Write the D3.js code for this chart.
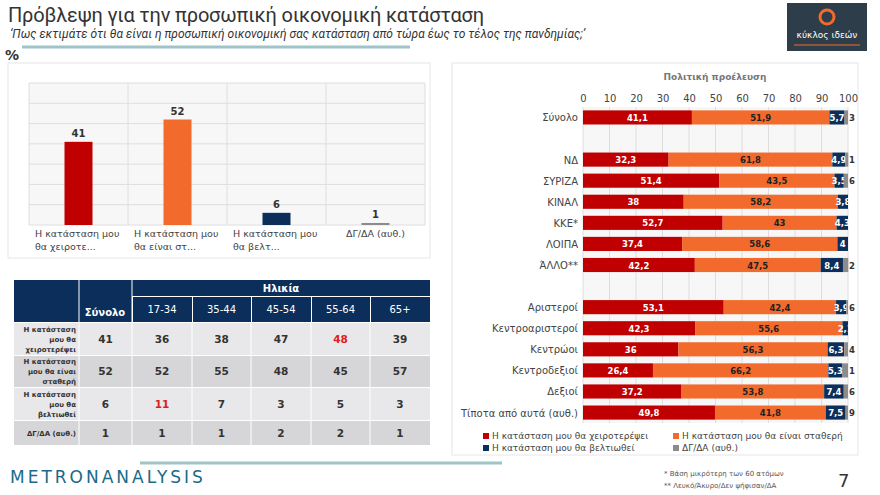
<!DOCTYPE html>
<html><head><meta charset="utf-8">
<script src="https://cdn.jsdelivr.net/npm/d3@7"></script>
<style>body{margin:0;background:#fff;font-family:"DejaVu Sans",sans-serif}</style>
</head><body>
<script>
// data
var totalCats = ["Η κατάσταση μου θα χειροτε...", "Η κατάσταση μου θα είναι στ...", "Η κατάσταση μου θα βελτ...", "ΔΓ/ΔΑ (αυθ.)"];
var totalVals = [41, 52, 6, 1];
var colors = ["#c00000", "#f26a2c", "#0b2f5a", "#8c8c8c"];

var groups = ["Σύνολο", "_b1", "ΝΔ", "ΣΥΡΙΖΑ", "ΚΙΝΑΛ", "ΚΚΕ*", "ΛΟΙΠΑ", "ΆΛΛΟ**", "_b2", "Αριστεροί", "Κεντροαριστεροί", "Κεντρώοι", "Κεντροδεξιοί", "Δεξιοί", "Τίποτα από αυτά (αυθ.)"];
var worse  = [41.1, null, 32.3, 51.4, 38, 52.7, 37.4, 42.2, null, 53.1, 42.3, 36, 26.4, 37.2, 49.8];
var stable = [51.9, null, 61.8, 43.5, 58.2, 43, 58.6, 47.5, null, 42.4, 55.6, 56.3, 66.2, 53.8, 41.8];
var better = [5.7, null, 4.9, 3.5, 3.8, 4.3, 4, 8.4, null, 3.9, 2.1, 6.3, 5.3, 7.4, 7.5];
var dkna   = [1.3, null, 1.1, 1.6, 0, 0, 0, 2, null, 0.6, 0, 1.4, 2.1, 1.6, 0.9];
var seriesNames = ["Η κατάσταση μου θα χειροτερέψει", "Η κατάσταση μου θα είναι σταθερή", "Η κατάσταση μου θα βελτιωθεί", "ΔΓ/ΔΑ (αυθ.)"];
var xTicks = [0, 10, 20, 30, 40, 50, 60, 70, 80, 90, 100];

var ageGroups = ["17-34", "35-44", "45-54", "55-64", "65+"];
var rowLabels = [["Η κατάσταση", "μου θα", "χειροτερέψει"], ["Η κατάσταση", "μου θα είναι", "σταθερή"], ["Η κατάσταση", "μου θα", "βελτιωθεί"], ["ΔΓ/ΔΑ (αυθ.)"]];
var tableTotal = [41, 52, 6, 1];
var tableAge = [[36, 38, 47, 48, 39], [52, 55, 48, 45, 57], [11, 7, 3, 5, 3], [1, 1, 2, 2, 1]];
var highlight = [[0, 3], [2, 0]];

var svg = d3.select("body").append("svg").attr("width", 880).attr("height", 495);

// header
svg.append("text").attr("x", 8).attr("y", 22).attr("font-family", "Roboto, sans-serif").attr("font-size", 20).attr("fill", "#333")
  .attr("textLength", 476).text("Πρόβλεψη για την προσωπική οικονομική κατάσταση");
svg.append("text").attr("x", 10).attr("y", 38).attr("font-style", "italic").attr("font-family", "Roboto, sans-serif").attr("font-size", 12).attr("fill", "#333")
  .text("‘Πως εκτιμάτε ότι θα είναι η προσωπική οικονομική σας κατάσταση από τώρα έως το τέλος της πανδημίας;’");
svg.append("line").attr("x1", 22).attr("x2", 410).attr("y1", 47).attr("y2", 47).attr("stroke", "#9fc4c8").attr("stroke-width", 3);
svg.append("text").attr("x", 5).attr("y", 60).attr("font-size", 14).attr("font-weight", "bold").attr("fill", "#333").text("%");
// logo
svg.append("rect").attr("x", 787).attr("y", 3).attr("width", 80).attr("height", 48).attr("fill", "#2e3d4a");
svg.append("circle").attr("cx", 827).attr("cy", 17).attr("r", 7).attr("fill", "none").attr("stroke", "#f26a2c").attr("stroke-width", 3);
svg.append("text").attr("x", 827).attr("y", 38).attr("text-anchor", "middle").attr("font-size", 9).attr("fill", "#fff").text("κύκλος ιδεών");
svg.append("line").attr("x1", 794).attr("x2", 860).attr("y1", 45).attr("y2", 45).attr("stroke", "#f26a2c").attr("stroke-width", 1);

// left panel
svg.append("rect").attr("x", 8).attr("y", 63).attr("width", 422).attr("height", 195).attr("fill", "none").attr("stroke", "#e6e6e6");
var lx = d3.scaleBand().domain(totalCats).range([29, 425]);
var ly = d3.scaleLinear().domain([0, 70]).range([225, 83]);
var lg = svg.append("g");
lg.selectAll(".hg").data(d3.range(0, 71, 10)).join("line").attr("x1", 29).attr("x2", 425)
  .attr("y1", d => ly(d)).attr("y2", d => ly(d)).attr("stroke", "#dedede");
lg.selectAll(".vg").data(d3.range(5)).join("line").attr("y1", 83).attr("y2", 225)
  .attr("x1", d => 29 + d * lx.step()).attr("x2", d => 29 + d * lx.step()).attr("stroke", "#dedede");
lg.append("rect").attr("x", 29).attr("y", 83).attr("width", 396).attr("height", 142).attr("fill", "#f7f7f7").lower();
lg.selectAll(".bar").data(totalVals).join("rect")
  .attr("x", (d, i) => lx(totalCats[i]) + lx.bandwidth() / 2 - 14).attr("width", 28)
  .attr("y", d => ly(d)).attr("height", d => 225 - ly(d)).attr("fill", (d, i) => colors[i]);
lg.selectAll(".bl").data(totalVals).join("text")
  .attr("x", (d, i) => lx(totalCats[i]) + lx.bandwidth() / 2).attr("y", d => ly(d) - 5)
  .attr("text-anchor", "middle").attr("font-size", 10).attr("font-weight", "bold").attr("fill", "#333").text(d => d);
totalCats.forEach(function(c, i) {
  var cx = lx(c) + lx.bandwidth() / 2;
  var t = lg.append("text").attr("font-size", 9.5).attr("fill", "#444");
  if (i < 3) {
    var idx = c.indexOf("μου") + 3;
    t.append("tspan").attr("x", lx(c) + 6).attr("y", 237).text(c.slice(0, idx));
    t.append("tspan").attr("x", lx(c) + 6).attr("y", 250).text(c.slice(idx + 1));
  } else {
    t.attr("x", cx).attr("y", 237).attr("text-anchor", "middle").text(c);
  }
});

// table
var tg = svg.append("g").attr("font-family", "DejaVu Sans, sans-serif");
var colX = [14, 79, 132, 192, 251, 311, 370, 430];
var rowY = [322, 355, 387, 420, 445];
var navy = "#0b2f5a";
tg.append("rect").attr("x", 14).attr("y", 280).attr("width", 118).attr("height", 42).attr("fill", navy);
tg.append("rect").attr("x", 132).attr("y", 280).attr("width", 298).attr("height", 16).attr("fill", navy);
tg.append("text").attr("x", 281).attr("y", 292).attr("text-anchor", "middle").attr("font-size", 10).attr("font-weight", "bold").attr("fill", "#fff").text("Ηλικία");
ageGroups.forEach(function(a, i) {
  tg.append("rect").attr("x", colX[i + 2] + 1).attr("y", 297).attr("width", colX[i + 3] - colX[i + 2] - 1).attr("height", 25).attr("fill", navy);
  tg.append("text").attr("x", (colX[i + 2] + colX[i + 3]) / 2).attr("y", 313).attr("text-anchor", "middle").attr("font-size", 10).attr("fill", "#fff").text(a);
});
tg.append("line").attr("x1", 79).attr("x2", 79).attr("y1", 280).attr("y2", 322).attr("stroke", "#fff");
tg.append("line").attr("x1", 132).attr("x2", 132).attr("y1", 280).attr("y2", 322).attr("stroke", "#fff");
tg.append("text").attr("x", 105).attr("y", 316).attr("text-anchor", "middle").attr("font-size", 10).attr("font-weight", "bold").attr("fill", "#fff").text("Σύνολο");
rowLabels.forEach(function(lab, r) {
  var y0 = rowY[r], y1 = rowY[r + 1];
  tg.append("rect").attr("x", 14).attr("y", y0 + 1).attr("width", 416).attr("height", y1 - y0 - 1).attr("fill", r % 2 ? "#d6d6d9" : "#e8e8ea");
  var mid = (y0 + y1) / 2;
  lab.forEach(function(l, k) {
    tg.append("text").attr("x", 76).attr("y", mid + (k - (lab.length - 1) / 2) * 10 + 3).attr("text-anchor", "end")
      .attr("font-size", 7).attr("font-weight", "bold").attr("fill", "#333").text(l);
  });
  var vals = [tableTotal[r]].concat(tableAge[r]);
  vals.forEach(function(v, c) {
    var hi = highlight.some(h => h[0] === r && h[1] === c - 1);
    tg.append("text").attr("x", (colX[c + 1] + colX[c + 2]) / 2).attr("y", mid + 4).attr("text-anchor", "middle")
      .attr("font-size", 10.5).attr("font-weight", "bold").attr("fill", hi ? "#e02020" : "#333").text(v);
  });
});
colX.slice(1, 7).forEach(function(x) {
  tg.append("line").attr("x1", x).attr("x2", x).attr("y1", 322).attr("y2", 445).attr("stroke", "#fff");
});

// right panel
svg.append("rect").attr("x", 452).attr("y", 63).attr("width", 406).attr("height", 392).attr("fill", "none").attr("stroke", "#e6e6e6");
var rx = d3.scaleLinear().domain([0, 100]).range([583, 848]);
var ry = d3.scaleBand().domain(groups).range([107, 423]).paddingInner(0.33).paddingOuter(0.16);
var rg = svg.append("g");
rg.append("rect").attr("x", 583).attr("y", 107).attr("width", 265).attr("height", 316).attr("fill", "#f7f7f7");
rg.selectAll(".vg").data(xTicks).join("line").attr("x1", d => rx(d)).attr("x2", d => rx(d)).attr("y1", 107).attr("y2", 423).attr("stroke", "#dedede");
rg.append("text").attr("x", 715).attr("y", 80).attr("text-anchor", "middle").attr("font-size", 9).attr("font-weight", "bold").attr("fill", "#777").text("Πολιτική προέλευση");
var ax = rg.append("g").attr("transform", "translate(0,107)").call(d3.axisTop(rx).tickValues(xTicks).tickSize(0).tickPadding(5));
ax.select(".domain").remove();
ax.selectAll("text").attr("font-size", 10).attr("fill", "#444").attr("font-family", "DejaVu Sans, sans-serif");
var series = [worse, stable, better, dkna];
groups.forEach(function(g, i) {
  if (worse[i] === null) return;
  var y = ry(g), h = ry.bandwidth();
  rg.append("text").attr("x", 578).attr("y", y + h / 2 + 4).attr("text-anchor", "end").attr("font-size", 10).attr("fill", "#444").text(g);
  var acc = 0;
  series.forEach(function(s, k) {
    var v = s[i];
    if (v > 0) {
      rg.append("rect").attr("x", rx(acc)).attr("width", rx(acc + v) - rx(acc)).attr("y", y).attr("height", h).attr("fill", colors[k]);
      var lbl = String(v).replace(".", ",");
      if (k < 3) {
        rg.append("text").attr("x", rx(acc + v / 2)).attr("y", y + h / 2 + 3.5).attr("text-anchor", "middle")
          .attr("font-size", 8.5).attr("font-weight", "bold").attr("fill", k === 1 ? "#222" : "#fff").text(lbl);
      } else {
        rg.append("text").attr("x", rx(100) + 1).attr("y", y + h / 2 + 3.5)
          .attr("font-size", 8.5).attr("font-weight", "bold").attr("fill", "#333").text(lbl.slice(-1));
      }
    }
    acc += v;
  });
});
// legend
var legPos = [[483, 439], [673, 439], [483, 451], [673, 451]];
seriesNames.forEach(function(n, k) {
  rg.append("rect").attr("x", legPos[k][0]).attr("y", legPos[k][1] - 6).attr("width", 6).attr("height", 6).attr("fill", colors[k]);
  rg.append("text").attr("x", legPos[k][0] + 9).attr("y", legPos[k][1]).attr("font-size", 9).attr("fill", "#444").text(n);
});

// footer
svg.append("line").attr("x1", 140).attr("x2", 502).attr("y1", 463).attr("y2", 463).attr("stroke", "#9fc4c8").attr("stroke-width", 3);
svg.append("text").attr("x", 10).attr("y", 483).attr("font-size", 17).attr("letter-spacing", 3).attr("fill", "#1a6a8a").text("METRONANALYSIS");
svg.append("text").attr("x", 664).attr("y", 476).attr("font-size", 7).attr("fill", "#555").text("* Βάση μικρότερη των 60 ατόμων");
svg.append("text").attr("x", 664).attr("y", 488).attr("font-size", 7).attr("fill", "#555").text("** Λευκό/Άκυρο/Δεν ψήφισαν/ΔΑ");
svg.append("text").attr("x", 838).attr("y", 487).attr("font-size", 18).attr("fill", "#333").text("7");
</script>
</body></html>
